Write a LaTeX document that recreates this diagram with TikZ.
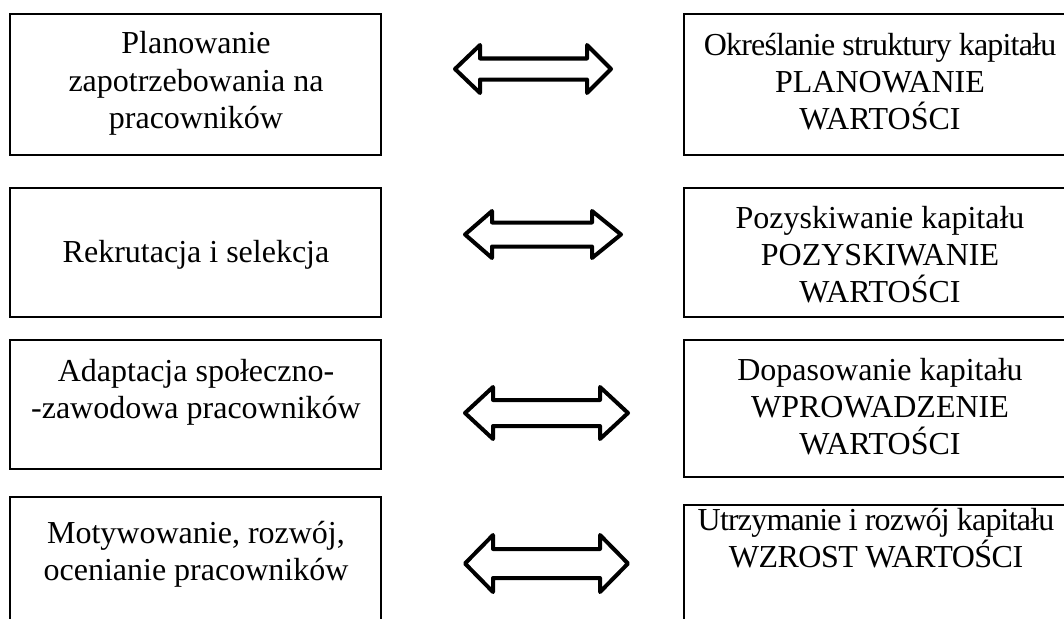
\documentclass[tikz,border=0pt]{standalone}
\usepackage{fontspec}
\setmainfont{Liberation Serif}
\tikzset{
  box/.style={draw=black, line width=1.8pt, minimum width=371pt, inner sep=0pt},
  rbox/.style={box, minimum width=394pt},
  txt/.style={font=\fontsize{32}{37}\selectfont, align=center, inner sep=0pt, anchor=base},
  barrow/.style={draw=black, line width=4pt, line join=round, fill=white}
}
\newcommand\dblarr[7]{%
  \draw[barrow] (#2,#1) -- (#3,#1-#7) -- (#3,#1-#6) -- (#4,#1-#6) -- (#4,#1-#7) -- (#5,#1)
    -- (#4,#1+#7) -- (#4,#1+#6) -- (#3,#1+#6) -- (#3,#1+#7) -- cycle;}
\begin{document}
\begin{tikzpicture}[x=1pt,y=-1pt]
\useasboundingbox (0,0) rectangle (1064,618);
\clip (0,0) rectangle (1064,618);
% left boxes
\node[box, minimum height=141pt] (L1) at (195.5,84.5) {};
\node[box, minimum height=129pt] (L2) at (195.5,252.5) {};
\node[box, minimum height=129pt] (L3) at (195.5,404.5) {};
\node[box, minimum height=163pt] (L4) at (195.5,578.5) {};
% right boxes
\node[rbox, minimum height=141pt] (R1) at (881,84.5) {};
\node[rbox, minimum height=129pt] (R2) at (881,252.5) {};
\node[rbox, minimum height=137pt] (R3) at (881,408.5) {};
\node[rbox, minimum height=155pt] (R4) at (881,582.5) {};
% left texts (anchor = baseline of last line)
\node[txt] (t1) at (196,128) {Planowanie\\zapotrzebowania na\\pracowników};
\node[txt] (t2) at (196,262) {Rekrutacja i selekcja};
\node[txt] (t3) at (196,418) {Adaptacja społeczno-\\-zawodowa pracowników};
\node[txt] (t4) at (196,580) {Motywowanie, rozwój,\\ocenianie pracowników};
% right texts
\node[txt] (u1) at (880,129) {{\addfontfeature{LetterSpace=-2.5}Określanie struktury kapitału}\\PLANOWANIE\\WARTOŚCI};
\node[txt] (u2) at (880,302) {Pozyskiwanie kapitału\\POZYSKIWANIE\\WARTOŚCI};
\node[txt] (u3) at (880,454) {Dopasowanie kapitału\\WPROWADZENIE\\WARTOŚCI};
\node[txt] (u4) at (876,567) {{\addfontfeature{LetterSpace=-2.5}Utrzymanie i rozwój kapitału}\\{\addfontfeature{LetterSpace=-1.5}WZROST WARTOŚCI}};
% double arrows
\dblarr{69}{455}{480}{587}{611}{10.5}{24}
\dblarr{234.5}{465}{492}{592}{621}{12}{23.5}
\dblarr{413}{465}{493}{600}{628}{13}{26}
\dblarr{563.5}{465}{493}{600}{628}{14.5}{28.5}
\end{tikzpicture}
\end{document}
